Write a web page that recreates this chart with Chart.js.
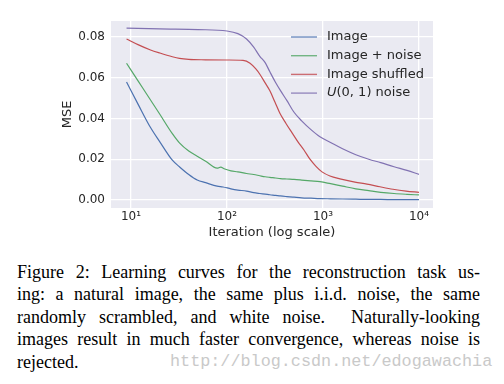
<!DOCTYPE html>
<html>
<head>
<meta charset="utf-8">
<script src="https://cdn.jsdelivr.net/npm/chart.js@4.4.1/dist/chart.umd.min.js"></script>
<style>
body{margin:0;background:#fff;width:504px;height:384px;overflow:hidden;position:relative}
#wrap{position:absolute;left:0;top:0;width:504px;height:250px}
#caption{position:absolute;left:17px;top:261px;width:463px;font-family:"Liberation Serif",serif;font-size:18px;line-height:22.4px;color:#000}
#caption .ln{text-align:justify;text-align-last:justify}
#caption .last{text-align:left;position:relative}
#wm{position:absolute;left:153px;top:0;font-family:"Liberation Mono",monospace;font-size:16.8px;color:#c9c9c9;white-space:nowrap}
</style>
</head>
<body>
<div id="wrap"><canvas id="chart" width="504" height="250"></canvas></div>
<div id="caption">
<div class="ln">Figure 2: Learning curves for the reconstruction task us-</div>
<div class="ln">ing: a natural image, the same plus i.i.d. noise, the same</div>
<div class="ln">randomly scrambled, and white noise.&nbsp; Naturally-looking</div>
<div class="ln">images result in much faster convergence, whereas noise is</div>
<div class="last">rejected.<span id="wm">http://blog.csdn.net/edogawachia</span></div>
</div>
<script>
// series data (iteration, MSE)
const iterImage = [9, 12, 16, 20, 27, 32, 40, 49, 60, 79, 91, 110, 130, 160, 190, 220, 250, 280, 320, 360, 420, 500, 600, 750, 930, 1200, 1600, 2200, 3000, 4000, 5500, 7500, 10000]
const mseImage = [0.0578, 0.0465, 0.0355, 0.0285, 0.0195, 0.0163, 0.0125, 0.0098, 0.0085, 0.0068, 0.0064, 0.0055, 0.0049, 0.0044, 0.0036, 0.0032, 0.0029, 0.0026, 0.0023, 0.0020, 0.0017, 0.0014, 0.0011, 0.0009, 0.0007, 0.0006, 0.0005, 0.0004, 0.0003, 0.0003, 0.0002, 0.0002, 0.0002]

const iterNoisy = [9, 12, 16, 20, 27, 32, 40, 49, 60, 79, 86, 95, 110, 130, 160, 190, 220, 250, 280, 320, 360, 420, 500, 600, 750, 930, 1200, 1600, 2200, 3000, 4000, 5500, 7500, 10000]
const mseNoisy = [0.0670, 0.0580, 0.0490, 0.0420, 0.0325, 0.0280, 0.0240, 0.0215, 0.0190, 0.0156, 0.0161, 0.0152, 0.0143, 0.0138, 0.0130, 0.0125, 0.0119, 0.0114, 0.0111, 0.0108, 0.0105, 0.0103, 0.0101, 0.0098, 0.0094, 0.0090, 0.0080, 0.0068, 0.0055, 0.0046, 0.0038, 0.0032, 0.0028, 0.0025]

const iterShuffled = [9, 12, 16, 20, 27, 32, 40, 60, 100, 147, 174, 200, 221, 249, 280, 316, 356, 412, 475, 549, 634, 732, 846, 977, 1183, 1503, 2154, 2872, 3925, 5360, 7330, 10000]
const mseShuffled = [0.0789, 0.0760, 0.0735, 0.0720, 0.0702, 0.0694, 0.0689, 0.0687, 0.0686, 0.0684, 0.0670, 0.0642, 0.0615, 0.0575, 0.0535, 0.0480, 0.0425, 0.0375, 0.0330, 0.0285, 0.0245, 0.0200, 0.0165, 0.0138, 0.0118, 0.0104, 0.0088, 0.0078, 0.0065, 0.0053, 0.0044, 0.0038]

const iterUniform = [9, 20, 50, 100, 130, 160, 190, 220, 250, 280, 320, 360, 420, 500, 600, 750, 930, 1200, 1600, 2200, 3000, 4000, 5500, 7500, 10000]
const mseUniform = [0.0842, 0.0838, 0.0835, 0.0828, 0.0815, 0.0789, 0.0749, 0.0704, 0.0673, 0.0628, 0.0577, 0.0537, 0.0488, 0.0430, 0.0388, 0.0345, 0.0310, 0.0282, 0.0251, 0.0222, 0.0200, 0.0183, 0.0163, 0.0145, 0.0126]

const seriesLabels = ["Image", "Image + noise", "Image shuffled", "U(0, 1) noise"]
const italicPrefix = ["", "", "", "U"]
const seriesColors = ["#4c72b0", "#55a868", "#c44e52", "#8172b2"]

const xTicks = [10, 100, 1000, 10000]
const xTickLabels = ["10\u00b9", "10\u00b2", "10\u00b3", "10\u2074"]
const yTicks = [0, 0.02, 0.04, 0.06, 0.08]

const textColor = "#262626"

function pairs(xs, ys){
return xs.map((x, i) => ({x: x, y: ys[i]}))
}

const allIters = [iterImage, iterNoisy, iterShuffled, iterUniform]
const allMse = [mseImage, mseNoisy, mseShuffled, mseUniform]

const datasets = seriesLabels.map((lab, i) => ({
label: lab,
data: pairs(allIters[i], allMse[i]),
borderColor: seriesColors[i],
borderWidth: 1.2,
pointRadius: 0,
cubicInterpolationMode: "monotone",
fill: false
}))

// grey plot background
const plotBg = {
id: "plotBg",
beforeDraw(c){
const a = c.chartArea
const ctx = c.ctx
ctx.save()
ctx.fillStyle = "#eaeaf2"
ctx.fillRect(a.left, a.top, a.right - a.left, a.bottom - a.top)
ctx.restore()
}
}

// legend inside the axes, top right
const innerLegend = {
id: "innerLegend",
afterDraw(c){
const a = c.chartArea
const ctx = c.ctx
ctx.save()
ctx.textBaseline = "middle"
seriesLabels.forEach((lab, i) => {
const y = a.top + 16 + i * 18.7
const x0 = a.right - 142
ctx.strokeStyle = seriesColors[i]
ctx.globalAlpha = 0.8
ctx.lineWidth = 1.4
ctx.beginPath()
ctx.moveTo(x0, y)
ctx.lineTo(x0 + 26, y)
ctx.stroke()
ctx.globalAlpha = 1
ctx.fillStyle = textColor
let tx = x0 + 36
const pre = italicPrefix[i]
if(pre){
ctx.font = "italic 13px 'DejaVu Sans'"
ctx.fillText(pre, tx, y)
tx += ctx.measureText(pre).width
}
ctx.font = "13px 'DejaVu Sans'"
ctx.fillText(lab.slice(pre.length), tx, y)
})
ctx.restore()
}
}

new Chart(document.getElementById("chart"), {
type: "line",
data: {datasets: datasets},
options: {
responsive: false,
animation: false,
layout: {padding: {top: 21, right: 71, left: 0, bottom: 0}},
plugins: {legend: {display: false}, tooltip: {enabled: false}},
scales: {
x: {
type: "logarithmic",
min: 6.2,
max: 14000,
afterBuildTicks: s => { s.ticks = xTicks.map(v => ({value: v})) },
afterFit: s => { s.height = 42 },
grid: {color: "#ffffff", lineWidth: 1.3, drawTicks: false},
border: {display: false},
ticks: {
padding: 2,
color: textColor,
font: {family: "DejaVu Sans", size: 12},
callback: v => xTickLabels[xTicks.indexOf(v)] || ""
},
title: {display: true, text: "Iteration (log scale)", color: textColor, font: {family: "DejaVu Sans", size: 13}, padding: {top: 0, bottom: 10}}
},
y: {
min: -0.0039,
max: 0.0877,
afterBuildTicks: s => { s.ticks = yTicks.map(v => ({value: v})) },
afterFit: s => { s.width = 111 },
grid: {color: "#ffffff", lineWidth: 1.3, drawTicks: false},
border: {display: false},
ticks: {
padding: 6,
color: textColor,
font: {family: "DejaVu Sans", size: 12},
callback: v => v.toFixed(2)
},
title: {display: true, text: "MSE", color: textColor, font: {family: "DejaVu Sans", size: 13}, padding: {top: 60, bottom: 0}}
}
}
},
plugins: [plotBg, innerLegend]
})
</script>
</body>
</html>
